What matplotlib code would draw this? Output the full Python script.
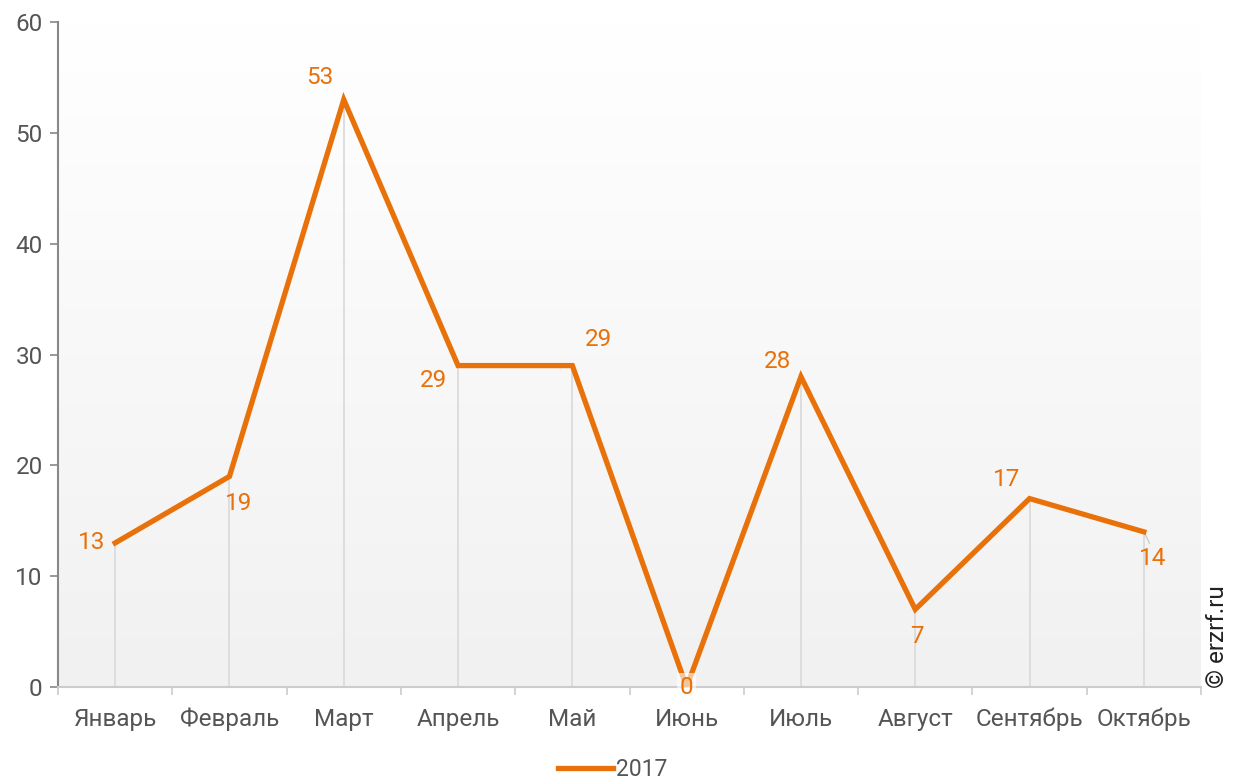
import numpy as np
import matplotlib.pyplot as plt
from matplotlib.colors import LinearSegmentedColormap

plt.rcParams['font.family'] = ['Roboto', 'DejaVu Sans']

months = ["Январь", "Февраль", "Март", "Апрель", "Май",
          "Июнь", "Июль", "Август", "Сентябрь", "Октябрь"]
values_2017 = [13, 19, 53, 29, 29, 0, 28, 7, 17, 14]
series_name = "2017"

# label placement per point, in pixels relative to the point
label_offsets = [(-24, 0), (9, -27), (-24, 22), (-25, -15), (26, 26),
                 (0, 0), (-23, 15), (2, -27), (-23, 19), (9, -27)]

ORANGE = "#E8710A"
GRID = "#d9d9d9"
TEXT = "#555555"
FS = 17.5

fig = plt.figure(figsize=(12.4, 7.82), dpi=100)
ax = fig.add_axes([58 / 1240, 1 - 687 / 782, 1143 / 1240, 665 / 782])

x = np.arange(len(months))
ax.set_xlim(-0.5, len(months) - 0.5)
ax.set_ylim(0, 60)

# soft vertical gradient behind the plot
grad = np.linspace(0, 1, 256).reshape(-1, 1)
cmap = LinearSegmentedColormap.from_list("bg", ["#f1f1f1", "#ffffff"])
ax.imshow(grad, extent=(-0.5, len(months) - 0.5, 0, 60), origin="lower",
          aspect="auto", cmap=cmap, zorder=0)

# drop lines from each point down to zero
ax.vlines(x, 0, values_2017, color=GRID, lw=1.2, zorder=1)

line, = ax.plot(x, values_2017, color=ORANGE, lw=3.8, zorder=3,
                solid_joinstyle="miter", label=series_name)

for i, v in enumerate(values_2017):
    dx, dy = label_offsets[i]
    kw = {}
    if v == 0:
        kw["bbox"] = dict(boxstyle="square,pad=0.1", fc="white", ec="none", alpha=0.6)
    ax.annotate(str(v), (x[i], v), xytext=(dx, dy), textcoords="offset pixels",
                ha="center", va="center", fontsize=FS, color=ORANGE,
                zorder=4, **kw)

# short leader line for the last label
ax.annotate("", (x[-1], values_2017[-1]), xytext=(7, -14), textcoords="offset pixels",
            arrowprops=dict(arrowstyle="-", color="#cccccc", lw=1), zorder=2)

for s in ["top", "right"]:
    ax.spines[s].set_visible(False)
ax.spines["left"].set_color("#888888")
ax.spines["left"].set_linewidth(1.5)
ax.spines["bottom"].set_color("#cccccc")
ax.spines["bottom"].set_linewidth(1.5)

ax.set_yticks(range(0, 61, 10))
ax.tick_params(axis="y", colors="#888888", labelcolor=TEXT, labelsize=FS,
               length=6, width=1.2, pad=5)
ax.set_xticks(x)
ax.set_xticklabels(months)
ax.set_xticks(np.arange(-0.5, len(months)), minor=True)
ax.tick_params(axis="x", which="major", length=0, labelsize=FS,
               labelcolor=TEXT, pad=15)
ax.tick_params(axis="x", which="minor", length=6, width=1.2, colors="#cccccc")

fig.legend(handles=[line], loc="center", bbox_to_anchor=(0.494, 1 - 770 / 782),
           frameon=False, fontsize=16.5, handlelength=2.4, handletextpad=0.15,
           labelcolor=TEXT)

fig.text(1218 / 1240, 1 - 637 / 782, "© erzrf.ru", rotation=90, ha="center",
         va="center", fontsize=FS, color="#222222")

fig.savefig("out.png", dpi=100)
